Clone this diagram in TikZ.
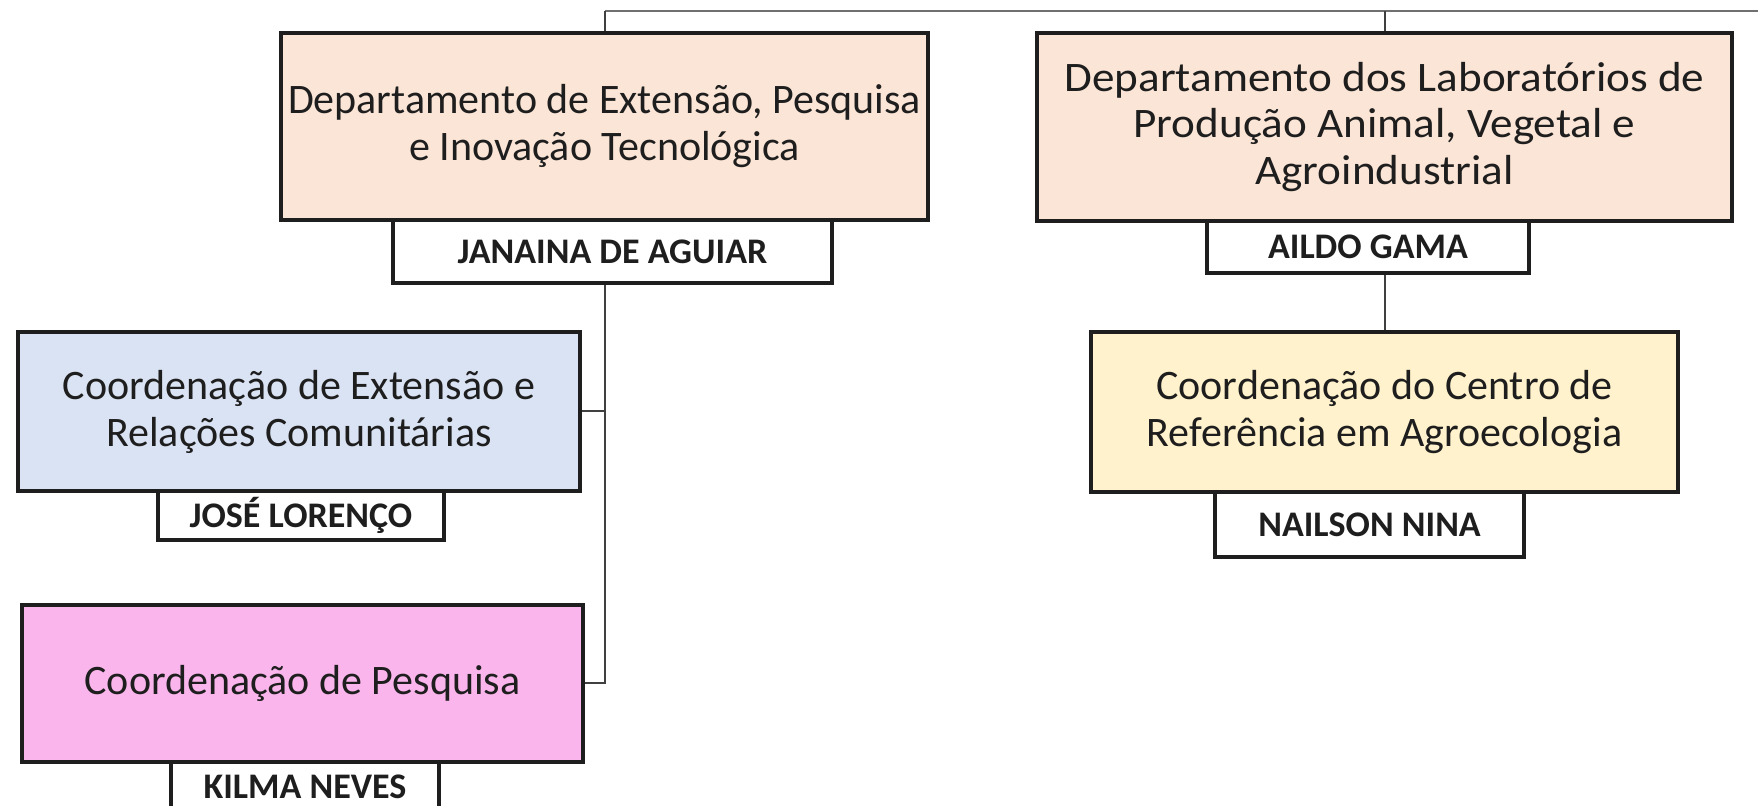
\documentclass[tikz,border=0pt]{standalone}
\usepackage{fontspec}
\setmainfont{Carlito}
\newfontfamily\widefont[FakeStretch=1.075]{Carlito}
\definecolor{peach}{HTML}{FBE5D6}
\definecolor{lblue}{HTML}{DAE3F3}
\definecolor{lpink}{HTML}{FAB6EC}
\definecolor{lyellow}{HTML}{FFF2CC}
\definecolor{ink}{HTML}{1E1E1E}
\definecolor{topgray}{HTML}{707070}
\tikzset{
  unitbox/.style={draw=ink, line width=2.2pt, inner sep=0pt, align=center, text=ink,
    font=\fontsize{21}{23.5}\selectfont},
  namebox/.style={draw=ink, fill=white, line width=1.7pt, inner sep=0pt, align=center, text=ink,
    font=\fontsize{18}{20}\selectfont\bfseries},
  link/.style={draw=ink!85, line width=1pt},
  toplink/.style={draw=topgray, line width=1.1pt}
}
\begin{document}
\begin{tikzpicture}[x=0.5pt,y=-0.5pt]
\clip (0,0) rectangle (1758,806);
\fill[white] (0,0) rectangle (1758,806);
% department boxes
\node[unitbox, fill=peach, minimum width=323.5pt, minimum height=93.5pt] (b1) at (604.5,126.5)
  {Departamento de Extensão, Pesquisa\\e Inovação Tecnológica};
\node[unitbox, fill=peach, minimum width=347.5pt, minimum height=94pt,
  font=\fontsize{21}{23.2}\selectfont\widefont] (b2) at (1384.5,127)
  {Departamento dos Laboratórios de\\Produção Animal, Vegetal e\\Agroindustrial};
\node[unitbox, fill=lblue, minimum width=281pt, minimum height=79.5pt] (b3) at (299,411.5)
  {Coordenação de Extensão e\\Relações Comunitárias};
\node[unitbox, fill=lpink, minimum width=280.5pt, minimum height=78.5pt] (b4) at (302.5,683.5)
  {Coordenação de Pesquisa};
\node[unitbox, fill=lyellow, minimum width=293.5pt, minimum height=80pt] (b5) at (1384.5,412)
  {Coordenação do Centro de\\Referência em Agroecologia};
% name boxes
\node[namebox, minimum width=219.5pt, minimum height=31.5pt] (n1) at (612.5,251.5) {JANAINA DE AGUIAR};
\node[namebox, minimum width=161pt, minimum height=26pt] (n2) at (1368,247) {AILDO GAMA};
\node[namebox, minimum width=143pt, minimum height=24.5pt] (n3) at (301,515.5) {JOSÉ LORENÇO};
\node[namebox, minimum width=134pt, minimum height=25pt] (n4) at (305,787) {KILMA NEVES};
\node[namebox, minimum width=154.5pt, minimum height=32.5pt] (n5) at (1369.5,524.5) {NAILSON NINA};
% connectors
\coordinate (tl) at (605,11);
\coordinate (tr) at (1758,11);
\draw[toplink] (tl) -- (tr);
\draw[link] (b1.north) -- (b1.north |- tl);
\draw[link] (b2.north) -- (b2.north |- tl);
\draw[link] (b1.center |- n1.south) -- (b1.center |- b4.east) -- (b4.east);
\draw[link] (b3.east) -- (b3.east -| b1.center);
\draw[link] (b5.north |- n2.south) -- (b5.north);
\end{tikzpicture}
\end{document}
